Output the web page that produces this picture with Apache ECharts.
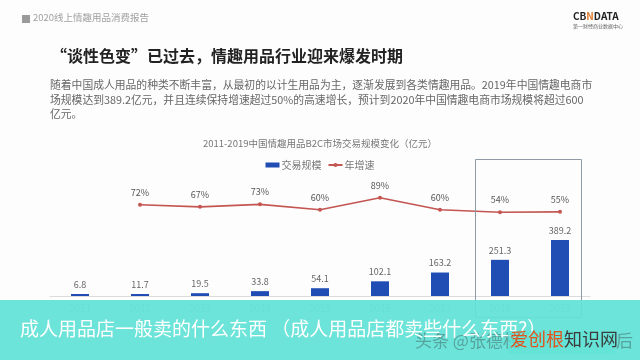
<!DOCTYPE html>
<html><head><meta charset="utf-8">
<script src="https://cdn.jsdelivr.net/npm/echarts@6/dist/echarts.min.js"></script>
<style>html,body{margin:0;padding:0;background:#fdfdfd;}#c{width:640px;height:360px;}</style>
</head><body><div id="c"></div>
<script>
const years = ['2011','2012','2013','2014','2015','2016','2017','2018','2019'];
const marketSize = [6.8, 11.7, 19.5, 33.8, 54.1, 102.1, 163.2, 251.3, 389.2];
const growthRate = [null, 72, 67, 73, 60, 89, 60, 54, 55];
const seriesNames = ['交易规模', '年增速'];
const chartTitle = '2011-2019中国情趣用品B2C市场交易规模变化（亿元）';
const pageTitle = '“谈性色变”已过去，情趣用品行业迎来爆发时期';
const paraLines = [
  '随着中国成人用品的种类不断丰富，从最初的以计生用品为主，逐渐发展到各类情趣用品。2019年中国情趣电商市',
  '场规模达到389.2亿元，并且连续保持增速超过50%的高速增长，预计到2020年中国情趣电商市场规模将超过600',
  '亿元。'
];
const FONT = '"Noto Sans CJK SC", "Noto Sans", sans-serif';

const chart = echarts.init(document.getElementById('c'), null, {renderer: 'canvas'});
const graphics = [
  {type:'rect', left:22, top:15, shape:{width:8, height:8}, style:{fill:'#9a9a9a'}},
  {type:'text', left:33, top:13, style:{text:'2020线上情趣用品消费报告', fill:'#a0a0a0', font:'9.5px ' + FONT}},
  {type:'text', left:573, top:11, style:{
    text:'{a|CB}{b|N}{a|DATA}',
    rich:{a:{fill:'#222', font:'bold 10px ' + FONT}, b:{fill:'#e07a2a', font:'bold 10px ' + FONT}}
  }},
  {type:'text', left:573, top:24, style:{text:'第一财经商业数据中心', fill:'#666', font:'5px ' + FONT}},
  {type:'text', left:51, top:48, style:{text:pageTitle, fill:'#222', font:'bold 16px ' + FONT}},
  {type:'rect', left:473, top:157, z:5, shape:{width:106, height:158}, style:{fill:'none', stroke:'#8e9ba6', lineWidth:1}},
  // banner
  {type:'rect', left:0, top:300, z:100, shape:{width:640, height:60}, style:{fill:'rgba(98,226,214,0.93)'}},
  {type:'text', left:20, top:319, z:102, style:{text:'成人用品店一般卖的什么东西 （成人用品店都卖些什么东西?）', fill:'#ffffff', font:'19px ' + FONT}},
  {type:'text', left:415, top:332, z:101, style:{text:'头条 @张德权', fill:'rgba(70,110,108,0.55)', font:'17px ' + FONT}},
  {type:'text', left:616, top:332, z:101, style:{text:'后', fill:'rgba(70,110,108,0.55)', font:'17px ' + FONT}},
  {type:'rect', left:508, top:331, z:102, shape:{width:107, height:23}, style:{fill:'rgba(98,226,214,0.7)'}},
  {type:'text', left:510, top:330, z:103, style:{text:'爱创根', fill:'#e2531b', font:'18px ' + FONT}},
  {type:'text', left:564, top:330, z:103, style:{text:'知识网', fill:'#3b3b3b', font:'18px ' + FONT}}
];
paraLines.forEach((t, i) => {
  graphics.push({type:'text', left:50, top:80 + i*14.5, style:{text:t, fill:'#666', font:'10.8px ' + FONT}});
});

chart.setOption({
  backgroundColor: '#fdfdfd',
  animation: false,
  textStyle: {fontFamily: FONT},
  title: {text: chartTitle, left: 'center', top: 134, textStyle: {fontSize: 9.5, color: '#777', fontWeight: 'normal'}},
  legend: {
    top: 155, left: 'center', itemGap: 6, itemWidth: 14, itemHeight: 5,
    textStyle: {fontSize: 10, color: '#777', padding: [0,0,0,-3]},
    data: [{name: seriesNames[0], icon: 'rect'}, {name: seriesNames[1]}]
  },
  grid: {left: 50, right: 50, top: 176, bottom: 64},
  xAxis: {
    type: 'category', data: years,
    axisLine: {lineStyle: {color: '#dcdcdc'}}, axisTick: {show: false},
    axisLabel: {color: '#b0b0b0', fontSize: 10, margin: 7}
  },
  yAxis: [
    {type: 'value', min: 0, max: 834, show: false},
    {type: 'value', min: -147, max: 141, show: false}
  ],
  graphic: graphics,
  series: [
    {
      name: seriesNames[0], type: 'bar', data: marketSize, barWidth: 18, barMinHeight: 2,
      itemStyle: {color: '#1f4db3'},
      label: {show: true, position: 'top', distance: 5, fontSize: 9, color: '#666'}
    },
    {
      name: seriesNames[1], type: 'line', yAxisIndex: 1, data: growthRate,
      symbol: 'circle', symbolSize: 4,
      lineStyle: {color: '#c45652', width: 1.6}, itemStyle: {color: '#c45652'},
      label: {show: true, position: 'top', distance: 6, fontSize: 9, color: '#555', formatter: '{c}%'}
    }
  ]
});
</script></body></html>
